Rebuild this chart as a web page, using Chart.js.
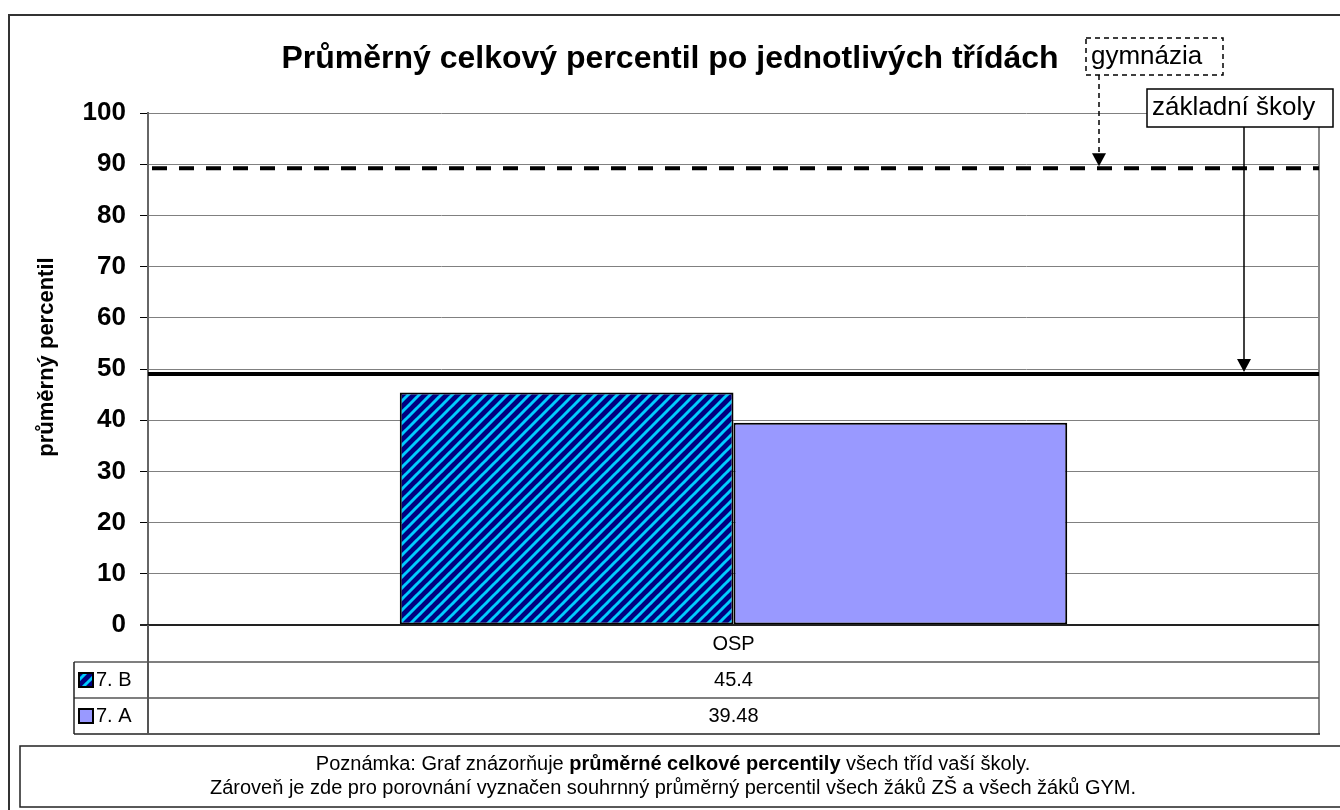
<!DOCTYPE html>
<html>
<head>
<meta charset="utf-8">
<script src="https://cdn.jsdelivr.net/npm/chart.js@4.4.1/dist/chart.umd.min.js"></script>
<style>
html, body { margin: 0; padding: 0; background: #fff; }
</style>
</head>
<body>
<canvas id="chart" width="1340" height="810"></canvas>
<script>
const categories = ['OSP'];
const seriesNames = ['7. B', '7. A'];
const seriesB = [45.4];
const seriesA = [39.48];
const refNames = ['gymnázia', 'základní školy'];
const refValues = [89.2, 49.0];
const titleText = 'Průměrný celkový percentil po jednotlivých třídách';
const yTitle = 'průměrný percentil';
const noteLine1 = [['Poznámka: Graf znázorňuje ', false], ['průměrné celkové percentily', true], [' všech tříd vaší školy.', false]];
const noteLine2 = 'Zároveň je zde pro porovnání vyznačen souhrnný průměrný percentil všech žáků ZŠ a všech žáků GYM.';

const FONT = "'Liberation Sans', Arial, sans-serif";

// navy / cyan diagonal stripes for 7. B
function stripePattern() {
    const t = document.createElement('canvas');
    t.width = t.height = 11;
    const c = t.getContext('2d');
    c.fillStyle = '#000080';
    c.fillRect(0, 0, 11, 11);
    c.strokeStyle = '#00ccff';
    c.lineWidth = 3;
    for (const k of [-11, 0, 11]) {
        c.beginPath();
        c.moveTo(k - 1, 12);
        c.lineTo(k + 12, -1);
        c.stroke();
    }
    return c.createPattern(t, 'repeat');
}

const ctx = document.getElementById('chart').getContext('2d');
const stripes = stripePattern();
const fills = [stripes, '#9999ff'];

function text(c, s, x, y, font, align) {
    c.font = font;
    c.textAlign = align || 'center';
    c.textBaseline = 'middle';
    c.fillStyle = '#000';
    c.fillText(s, x, y);
}

function line(c, x1, y1, x2, y2, color, w) {
    c.beginPath();
    c.strokeStyle = color;
    c.lineWidth = w;
    c.moveTo(x1, y1);
    c.lineTo(x2, y2);
    c.stroke();
}

function arrowHead(c, x, tipY) {
    c.beginPath();
    c.fillStyle = '#000';
    c.moveTo(x - 7, tipY - 13);
    c.lineTo(x + 7, tipY - 13);
    c.lineTo(x, tipY);
    c.closePath();
    c.fill();
}

const decor = {
    id: 'decor',
    beforeDraw(chart) {
        const c = chart.ctx;
        c.save();
        c.fillStyle = '#fff';
        c.fillRect(0, 0, chart.width, chart.height);
        c.restore();
    },
    afterDatasetsDraw(chart) {
        const c = chart.ctx;
        const a = chart.chartArea;
        const y = chart.scales.y;
        c.save();
        // plot frame: right edge and category axis
        line(c, a.right, a.top, a.right, 734, '#888', 2);
        line(c, a.left - 8, a.bottom, a.right, a.bottom, '#222', 2);

        // reference lines
        const yg = y.getPixelForValue(refValues[0]);
        c.setLineDash([15, 12]);
        line(c, a.left + 4, yg, a.right, yg, '#000', 4);
        c.setLineDash([]);
        const yz = y.getPixelForValue(refValues[1]);
        line(c, a.left, yz, a.right, yz, '#000', 4);
        c.restore();
    },
    afterDraw(chart) {
        const c = chart.ctx;
        const a = chart.chartArea;
        const y = chart.scales.y;
        const x = chart.scales.x;
        c.save();

        text(c, titleText, 670, 59, 'bold 32px ' + FONT);

        c.save();
        c.translate(47, 357);
        c.rotate(-Math.PI / 2);
        text(c, yTitle, 0, 0, 'bold 22px ' + FONT);
        c.restore();

        // callout: gymnázia (dashed)
        const yg = y.getPixelForValue(refValues[0]);
        c.setLineDash([5, 4]);
        c.strokeStyle = '#000';
        c.lineWidth = 1.5;
        c.strokeRect(1086, 38, 137, 37);
        line(c, 1099, 75, 1099, yg - 14, '#000', 1.5);
        c.setLineDash([]);
        arrowHead(c, 1099, yg - 2);
        text(c, refNames[0], 1091, 57, '26px ' + FONT, 'left');

        // callout: základní školy (solid)
        const yz = y.getPixelForValue(refValues[1]);
        c.fillStyle = '#fff';
        c.fillRect(1147, 89, 186, 38);
        c.strokeStyle = '#000';
        c.lineWidth = 1.5;
        c.strokeRect(1147, 89, 186, 38);
        line(c, 1244, 127, 1244, yz - 14, '#000', 1.5);
        arrowHead(c, 1244, yz - 2);
        text(c, refNames[1], 1152, 108, '26px ' + FONT, 'left');

        // data table
        const cx = x.getPixelForValue(0);
        text(c, categories[0], cx, 644, '20px ' + FONT);
        line(c, 74, 662, a.right, 662, '#555', 1.5);
        line(c, 74, 698, a.right, 698, '#555', 1.5);
        line(c, 74, 734, a.right + 1, 734, '#222', 1.5);
        line(c, 74, 662, 74, 734, '#222', 1.5);
        line(c, a.left, a.bottom, a.left, 734, '#555', 2);
        const rows = [seriesB, seriesA];
        rows.forEach((vals, i) => {
            const ry = 680 + i * 36;
            c.fillStyle = fills[i];
            c.fillRect(79, ry - 7, 14, 14);
            c.strokeStyle = '#000';
            c.lineWidth = 2;
            c.strokeRect(79, ry - 7, 14, 14);
            text(c, seriesNames[i], 96, ry, '20px ' + FONT, 'left');
            text(c, String(vals[0]), cx, ry, '20px ' + FONT);
        });

        // note box
        c.strokeStyle = '#222';
        c.lineWidth = 1.5;
        c.strokeRect(20, 746, 1400, 61);
        let total = 0;
        noteLine1.forEach(([s, b]) => {
            c.font = (b ? 'bold ' : '') + '20px ' + FONT;
            total += c.measureText(s).width;
        });
        let nx = 673 - total / 2;
        noteLine1.forEach(([s, b]) => {
            const f = (b ? 'bold ' : '') + '20px ' + FONT;
            text(c, s, nx, 764, f, 'left');
            nx += c.measureText(s).width;
        });
        text(c, noteLine2, 673, 788, '20px ' + FONT);

        // outer frame
        c.strokeStyle = '#333';
        c.lineWidth = 2;
        c.strokeRect(9, 15, 1400, 900);
        c.restore();
    }
};

new Chart(ctx, {
    type: 'bar',
    data: {
        labels: categories,
        datasets: [
            { label: seriesNames[0], data: seriesB, backgroundColor: fills[0] },
            { label: seriesNames[1], data: seriesA, backgroundColor: fills[1] }
        ]
    },
    options: {
        responsive: false,
        animation: false,
        layout: { padding: { top: 113, right: 21, bottom: 185, left: 0 } },
        datasets: {
            bar: {
                borderColor: '#000',
                borderWidth: 2,
                borderSkipped: false,
                categoryPercentage: 0.57,
                barPercentage: 1
            }
        },
        plugins: {
            legend: { display: false },
            title: { display: false },
            tooltip: { enabled: false }
        },
        scales: {
            x: { display: false },
            y: {
                min: 0,
                max: 100,
                afterFit: s => { s.width = 148; },
                ticks: {
                    stepSize: 10,
                    padding: 14,
                    color: '#000',
                    font: { family: FONT, size: 26, weight: 'bold' }
                },
                grid: { color: '#808080', lineWidth: 1, tickLength: 8, tickColor: '#000' },
                border: { color: '#666', width: 2 }
            }
        }
    },
    plugins: [decor]
});
</script>
</body>
</html>
